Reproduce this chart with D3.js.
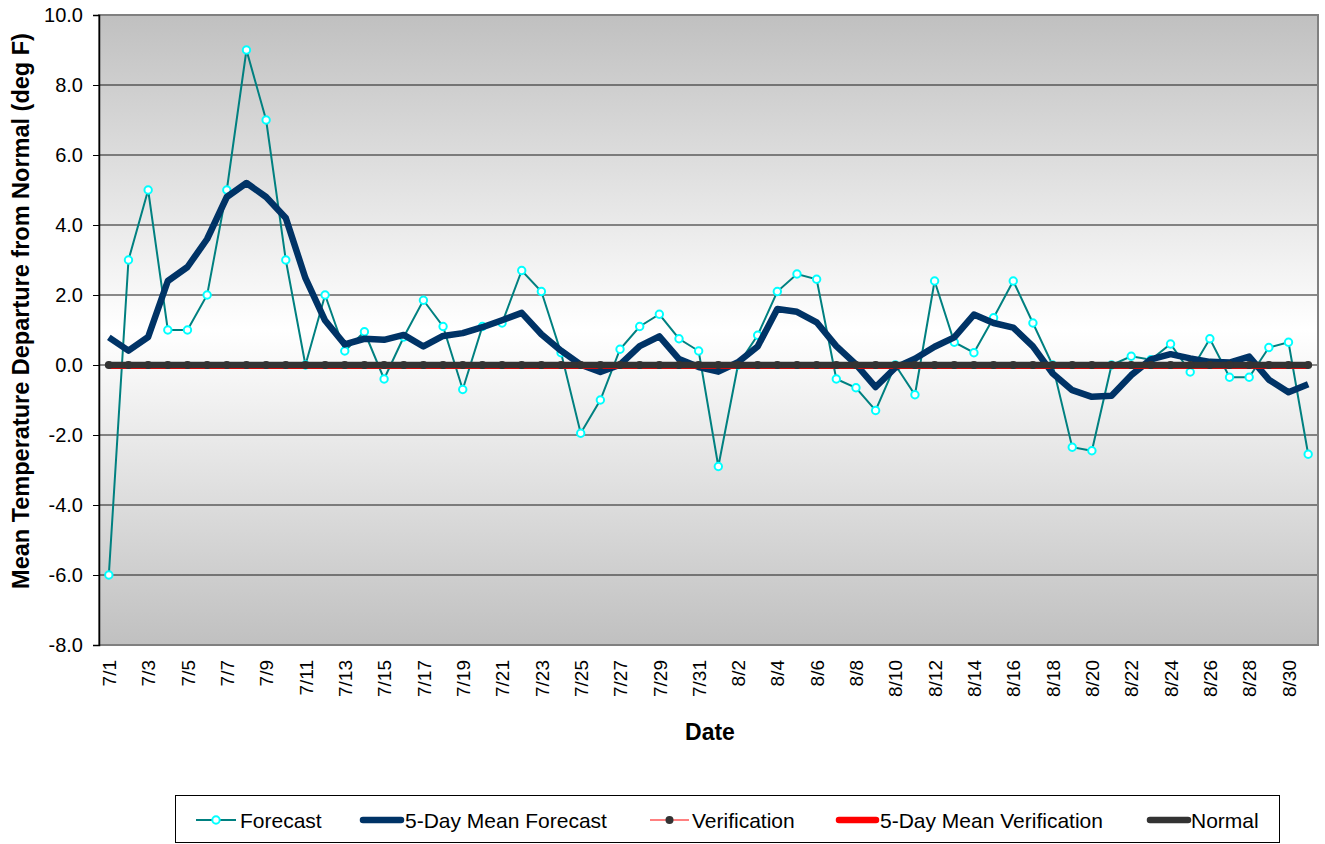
<!DOCTYPE html>
<html>
<head>
<meta charset="utf-8">
<script src="https://cdn.jsdelivr.net/npm/d3@7"></script>
<style>
  html, body { margin: 0; padding: 0; background: #ffffff; }
  svg { display: block; font-family: "Liberation Sans", Arial, sans-serif; }
</style>
</head>
<body>
<svg id="chart" width="1325" height="844"></svg>
<script>
// ---- Data ----
const dates = [
  "7/1","7/2","7/3","7/4","7/5","7/6","7/7","7/8","7/9","7/10",
  "7/11","7/12","7/13","7/14","7/15","7/16","7/17","7/18","7/19","7/20",
  "7/21","7/22","7/23","7/24","7/25","7/26","7/27","7/28","7/29","7/30","7/31",
  "8/1","8/2","8/3","8/4","8/5","8/6","8/7","8/8","8/9","8/10",
  "8/11","8/12","8/13","8/14","8/15","8/16","8/17","8/18","8/19","8/20",
  "8/21","8/22","8/23","8/24","8/25","8/26","8/27","8/28","8/29","8/30","8/31"
];
const forecast = [
  -6.0, 3.0, 5.0, 1.0, 1.0, 2.0, 5.0, 9.0, 7.0, 3.0,
  0.0, 2.0, 0.4, 0.95, -0.4, 0.8, 1.85, 1.1, -0.7, 1.1,
  1.2, 2.7, 2.1, 0.35, -1.95, -1.0, 0.45, 1.1, 1.45, 0.75, 0.4,
  -2.9, 0.0, 0.85, 2.1, 2.6, 2.45, -0.4, -0.65, -1.3, 0.0,
  -0.85, 2.4, 0.65, 0.35, 1.35, 2.4, 1.2, 0.0, -2.35, -2.45,
  0.0, 0.25, 0.15, 0.6, -0.2, 0.75, -0.35, -0.35, 0.5, 0.65, -2.55
];
const meanForecast = [
  0.79, 0.41, 0.8, 2.4, 2.8, 3.6, 4.8, 5.2, 4.8, 4.2,
  2.48, 1.27, 0.59, 0.75, 0.72, 0.86, 0.53, 0.83, 0.91, 1.08,
  1.28, 1.49, 0.88, 0.41, 0.01, -0.2, 0.01, 0.54, 0.82, 0.17, -0.06,
  -0.19, 0.08, 0.53, 1.6, 1.52, 1.22, 0.54, 0.02, -0.63, -0.08,
  0.18, 0.52, 0.79, 1.44, 1.2, 1.07, 0.53, -0.24, -0.72, -0.91,
  -0.88, -0.29, 0.16, 0.31, 0.19, 0.09, 0.07, 0.24, -0.42, -0.78, -0.55
];
const verification = [
  0,0,0,0,0,0,0,0,0,0, 0,0,0,0,0,0,0,0,0,0, 0,0,0,0,0,0,0,0,0,0,0,
  0,0,0,0,0,0,0,0,0,0, 0,0,0,0,0,0,0,0,0,0, 0,0,0,0,0,0,0,0,0,0,0
];
const meanVerification = [
  0,0,0,0,0,0,0,0,0,0, 0,0,0,0,0,0,0,0,0,0, 0,0,0,0,0,0,0,0,0,0,0,
  0,0,0,0,0,0,0,0,0,0, 0,0,0,0,0,0,0,0,0,0, 0,0,0,0,0,0,0,0,0,0,0
];
const normal = [
  0,0,0,0,0,0,0,0,0,0, 0,0,0,0,0,0,0,0,0,0, 0,0,0,0,0,0,0,0,0,0,0,
  0,0,0,0,0,0,0,0,0,0, 0,0,0,0,0,0,0,0,0,0, 0,0,0,0,0,0,0,0,0,0,0
];
const yTicks = [-8, -6, -4, -2, 0, 2, 4, 6, 8, 10];
const seriesNames = ["Forecast", "5-Day Mean Forecast", "Verification", "5-Day Mean Verification", "Normal"];

// ---- Layout ----
const svg = d3.select("#chart");
const plot = { left: 99, right: 1318, top: 15, bottom: 645 };

const x = d3.scalePoint().domain(dates).range([plot.left, plot.right]).padding(0.5);
const y = d3.scaleLinear().domain([-8, 10]).range([plot.bottom, plot.top]);

// Background gradient (gray -> white at center -> gray)
const defs = svg.append("defs");
const grad = defs.append("linearGradient").attr("id", "bg").attr("x1", 0).attr("y1", 0).attr("x2", 0).attr("y2", 1);
grad.append("stop").attr("offset", "0%").attr("stop-color", "#c0c0c0");
grad.append("stop").attr("offset", "50%").attr("stop-color", "#ffffff");
grad.append("stop").attr("offset", "100%").attr("stop-color", "#c0c0c0");

svg.append("rect")
  .attr("x", plot.left).attr("y", plot.top)
  .attr("width", plot.right - plot.left).attr("height", plot.bottom - plot.top)
  .attr("fill", "url(#bg)");

// Gridlines
svg.append("g").selectAll("line")
  .data(yTicks.filter(v => v > -8 && v < 10))
  .join("line")
  .attr("x1", plot.left).attr("x2", plot.right)
  .attr("y1", d => y(d)).attr("y2", d => y(d))
  .attr("stroke", "#1a1a1a").attr("stroke-width", 1);

// Plot border (gray)
svg.append("rect")
  .attr("x", plot.left).attr("y", plot.top)
  .attr("width", plot.right - plot.left).attr("height", plot.bottom - plot.top)
  .attr("fill", "none").attr("stroke", "#808080").attr("stroke-width", 2);

// Y axis
const fmt = d => d3.format(".1f")(d).replace("\u2212", "-");
const yAxis = d3.axisLeft(y).tickValues(yTicks).tickSize(6).tickPadding(10).tickFormat(fmt);
const yg = svg.append("g").attr("transform", `translate(${plot.left},0)`).call(yAxis);
yg.select(".domain").attr("stroke", "#000").attr("stroke-width", 1.5);
yg.selectAll(".tick line").attr("stroke", "#000");
yg.selectAll(".tick text").attr("font-size", 20).attr("fill", "#000")
  .attr("font-family", "Liberation Sans, Arial, sans-serif");

// X axis labels
const xAxis = d3.axisBottom(x).tickValues(dates.filter((d, i) => i % 2 === 0)).tickSize(0).tickPadding(0);
const xg = svg.append("g").attr("transform", `translate(0,${plot.bottom})`).call(xAxis);
xg.select(".domain").remove();
xg.selectAll(".tick text")
  .attr("font-size", 19).attr("fill", "#000")
  .attr("font-family", "Liberation Sans, Arial, sans-serif")
  .attr("text-anchor", "end")
  .attr("dy", "0.35em")
  .attr("transform", "translate(0,15) rotate(-90)")
  .attr("x", 0).attr("y", 0);

// Axis titles
svg.append("text")
  .attr("x", 710).attr("y", 740)
  .attr("text-anchor", "middle").attr("font-size", 23).attr("font-weight", "bold")
  .text("Date");
svg.append("text")
  .attr("transform", `translate(29,311) rotate(-90)`)
  .attr("text-anchor", "middle").attr("font-size", 23.5).attr("font-weight", "bold")
  .text("Mean Temperature Departure from Normal (deg F)");

// Lines
const line = d3.line().x((d, i) => x(dates[i])).y(d => y(d));

// Forecast
svg.append("path").datum(forecast).attr("d", line)
  .attr("fill", "none").attr("stroke", "#008080").attr("stroke-width", 2);
svg.append("g").selectAll("circle").data(forecast).join("circle")
  .attr("cx", (d, i) => x(dates[i])).attr("cy", d => y(d)).attr("r", 3.7)
  .attr("fill", "#ffffff").attr("stroke", "#00ffff").attr("stroke-width", 2);

// 5-day mean forecast
svg.append("path").datum(meanForecast).attr("d", line)
  .attr("fill", "none").attr("stroke", "#003366").attr("stroke-width", 6.5)
  .attr("stroke-linejoin", "round");

// Verification
svg.append("path").datum(verification).attr("d", line)
  .attr("fill", "none").attr("stroke", "#ff8080").attr("stroke-width", 2);

// 5-day mean verification
svg.append("path").datum(meanVerification)
  .attr("d", d3.line().x((d, i) => x(dates[i])).y(d => y(d) + 1.5))
  .attr("fill", "none").attr("stroke", "#ff0000").attr("stroke-width", 5);

// Normal
svg.append("path").datum(normal).attr("d", line)
  .attr("fill", "none").attr("stroke", "#333333").attr("stroke-width", 6.5)
  .attr("stroke-linecap", "round");

// Verification markers on top
svg.append("g").selectAll("circle").data(verification).join("circle")
  .attr("cx", (d, i) => x(dates[i])).attr("cy", d => y(d)).attr("r", 4)
  .attr("fill", "#333333");

// ---- Legend ----
const lg = svg.append("g");
lg.append("rect").attr("x", 175.5).attr("y", 795.5).attr("width", 1104).attr("height", 47)
  .attr("fill", "#fff").attr("stroke", "#000").attr("stroke-width", 1);

const legendItems = [
  { name: seriesNames[0], x1: 196, x2: 236, tx: 240, color: "#008080", w: 2, marker: "fc" },
  { name: seriesNames[1], x1: 363, x2: 401, tx: 405, color: "#003366", w: 6.5 },
  { name: seriesNames[2], x1: 650, x2: 689, tx: 692, color: "#ff8080", w: 2, marker: "ver" },
  { name: seriesNames[3], x1: 839, x2: 876, tx: 880, color: "#ff0000", w: 6.5 },
  { name: seriesNames[4], x1: 1150, x2: 1188, tx: 1191, color: "#333333", w: 6.5 }
];
const ly = 820;
legendItems.forEach(it => {
  lg.append("line").attr("x1", it.x1).attr("x2", it.x2).attr("y1", ly).attr("y2", ly)
    .attr("stroke", it.color).attr("stroke-width", it.w)
    .attr("stroke-linecap", it.w > 3 ? "round" : "butt");
  if (it.marker === "fc") {
    lg.append("circle").attr("cx", (it.x1 + it.x2) / 2).attr("cy", ly).attr("r", 3.7)
      .attr("fill", "#fff").attr("stroke", "#00ffff").attr("stroke-width", 2);
  } else if (it.marker === "ver") {
    lg.append("circle").attr("cx", (it.x1 + it.x2) / 2).attr("cy", ly).attr("r", 4)
      .attr("fill", "#333333");
  }
  lg.append("text").attr("x", it.tx).attr("y", ly + 7.5).attr("font-size", 21).attr("fill", "#000")
    .text(it.name);
});
</script>
</body>
</html>
